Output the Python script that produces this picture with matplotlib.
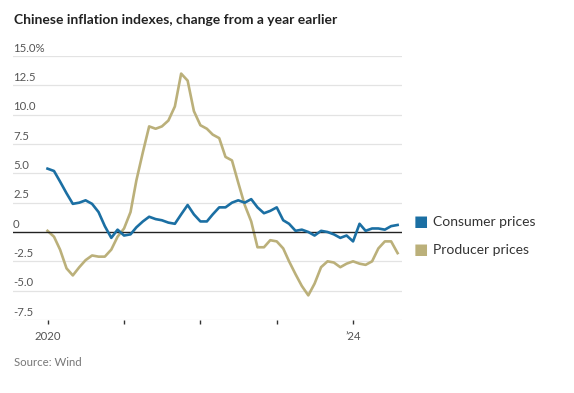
import matplotlib.pyplot as plt
import matplotlib.dates as mdates
import pandas as pd

# 월별 데이터 (2020년 1월 ~ 2024년 8월), 전년 동월 대비 %
months = pd.date_range("2020-01-01", "2024-08-01", freq="MS")
cpi = [5.4, 5.2, 4.3, 3.3, 2.4, 2.5, 2.7, 2.4, 1.7, 0.5, -0.5, 0.2,
       -0.3, -0.2, 0.4, 0.9, 1.3, 1.1, 1.0, 0.8, 0.7, 1.5, 2.3, 1.5,
       0.9, 0.9, 1.5, 2.1, 2.1, 2.5, 2.7, 2.5, 2.8, 2.1, 1.6, 1.8,
       2.1, 1.0, 0.7, 0.1, 0.2, 0.0, -0.3, 0.1, 0.0, -0.2, -0.5, -0.3,
       -0.8, 0.7, 0.1, 0.3, 0.3, 0.2, 0.5, 0.6]
ppi = [0.1, -0.4, -1.5, -3.1, -3.7, -3.0, -2.4, -2.0, -2.1, -2.1, -1.5, -0.4,
       0.3, 1.7, 4.4, 6.8, 9.0, 8.8, 9.0, 9.5, 10.7, 13.5, 12.9, 10.3,
       9.1, 8.8, 8.3, 8.0, 6.4, 6.1, 4.2, 2.3, 0.9, -1.3, -1.3, -0.7,
       -0.8, -1.4, -2.5, -3.6, -4.6, -5.4, -4.4, -3.0, -2.5, -2.6, -3.0, -2.7,
       -2.5, -2.7, -2.8, -2.5, -1.4, -0.8, -0.8, -1.8]
yticks = [15.0, 12.5, 10.0, 7.5, 5.0, 2.5, 0, -2.5, -5.0, -7.5]
ylabels = ["15.0%", "12.5", "10.0", "7.5", "5.0", "2.5", "0", "-2.5", "-5.0", "-7.5"]
xtick_years = [2020, 2021, 2022, 2023, 2024]
xlabels = ["2020", "", "", "", "\u201924"]

blue = "#1b6fa3"
khaki = "#bbb07a"
plt.rcParams['font.family'] = ['Lato', 'DejaVu Sans']

fig = plt.figure(figsize=(5.74, 3.93), dpi=100)
ax = fig.add_axes([13 / 574, 73 / 393, 389 / 574, 264 / 393])

# 그리드와 0 기준선
for v in yticks:
    if v == 0:
        ax.axhline(v, color="#222222", lw=1.0, zorder=3)
    else:
        ax.axhline(v, color="#e3e3e3", lw=0.9, zorder=1)
    ax.text(0.0, v + 0.2, ylabels[yticks.index(v)], transform=ax.get_yaxis_transform(),
            ha="left", va="bottom", fontsize=8.2, color="#555555")

ax.plot(months, cpi, color=blue, lw=1.9, zorder=4)
ax.plot(months, ppi, color=khaki, lw=1.9, zorder=2)

ax.set_ylim(-7.5, 15)
ax.set_xlim(pd.Timestamp("2019-07-20"), pd.Timestamp("2024-08-22"))
ax.set_yticks([])
ax.set_xticks([pd.Timestamp(f"{y}-01-01") for y in xtick_years])
ax.set_xticklabels(xlabels, fontsize=8.2, color="#555555")
ax.tick_params(axis="x", length=3, width=1, color="#333333", pad=5)
for s in ax.spines.values():
    s.set_visible(False)

# 제목, 범례, 출처
fig.text(14 / 574, 1 - 20 / 393, "Chinese inflation indexes, change from a year earlier",
         fontsize=10, fontweight="bold", color="#222222", va="center", ha="left")
fig.text(414 / 574, 1 - 222 / 393, "\u25a0", fontsize=11, color=blue, va="center", ha="left")
fig.text(433 / 574, 1 - 222 / 393, "Consumer prices", fontsize=10, color="#333333", va="center")
fig.text(414 / 574, 1 - 250 / 393, "\u25a0", fontsize=11, color=khaki, va="center", ha="left")
fig.text(433 / 574, 1 - 250 / 393, "Producer prices", fontsize=10, color="#333333", va="center")
fig.text(14 / 574, 1 - 362 / 393, "Source: Wind", fontsize=8.2, color="#777777", va="center")

fig.savefig("out.png", dpi=100)
